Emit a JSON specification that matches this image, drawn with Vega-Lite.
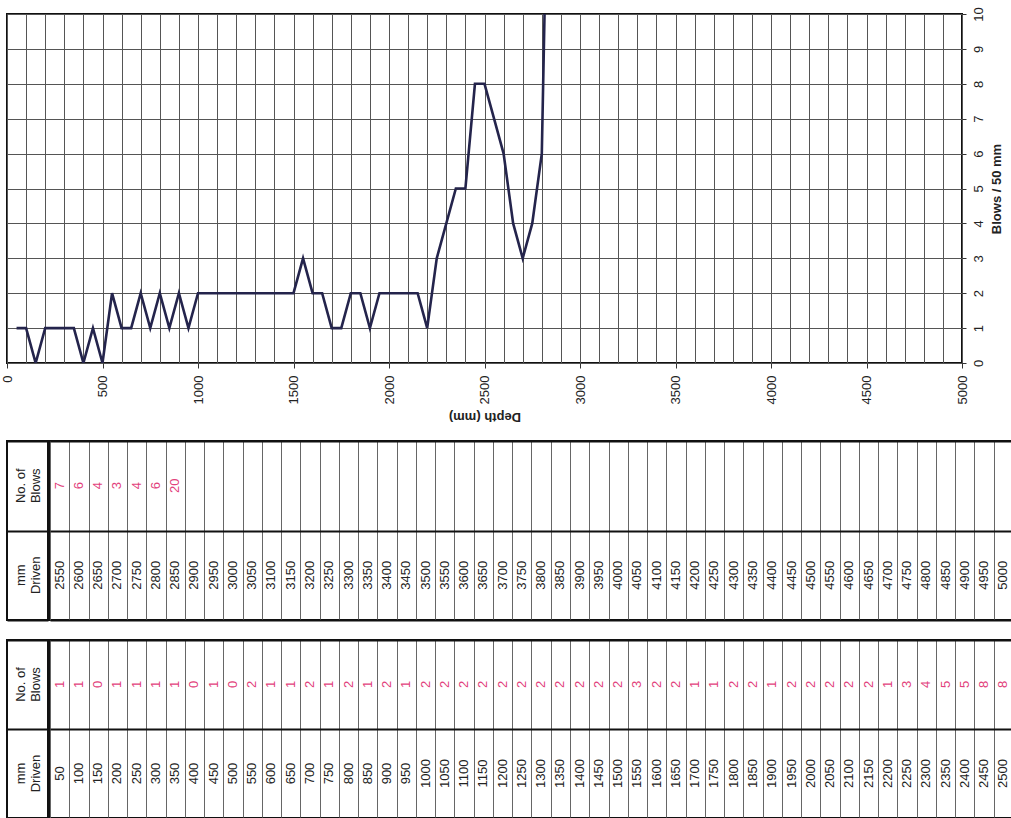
{
  "$schema": "https://vega.github.io/schema/vega-lite/v6.json",
  "padding": {"left": 0, "top": 5, "right": 0, "bottom": 0},
  "background": "white",
  "config": {
    "font": "Liberation Sans",
    "view": {"stroke": "#111111", "strokeWidth": 2},
    "axis": {"labelFont": "Liberation Sans", "titleFont": "Liberation Sans", "labelColor": "#222222", "titleColor": "#222222"}
  },
  "datasets": {
    "drive": [
      {"mm": 50, "blows": 1}, {"mm": 100, "blows": 1}, {"mm": 150, "blows": 0}, {"mm": 200, "blows": 1},
      {"mm": 250, "blows": 1}, {"mm": 300, "blows": 1}, {"mm": 350, "blows": 1}, {"mm": 400, "blows": 0},
      {"mm": 450, "blows": 1}, {"mm": 500, "blows": 0}, {"mm": 550, "blows": 2}, {"mm": 600, "blows": 1},
      {"mm": 650, "blows": 1}, {"mm": 700, "blows": 2}, {"mm": 750, "blows": 1}, {"mm": 800, "blows": 2},
      {"mm": 850, "blows": 1}, {"mm": 900, "blows": 2}, {"mm": 950, "blows": 1}, {"mm": 1000, "blows": 2},
      {"mm": 1050, "blows": 2}, {"mm": 1100, "blows": 2}, {"mm": 1150, "blows": 2}, {"mm": 1200, "blows": 2},
      {"mm": 1250, "blows": 2}, {"mm": 1300, "blows": 2}, {"mm": 1350, "blows": 2}, {"mm": 1400, "blows": 2},
      {"mm": 1450, "blows": 2}, {"mm": 1500, "blows": 2}, {"mm": 1550, "blows": 3}, {"mm": 1600, "blows": 2},
      {"mm": 1650, "blows": 2}, {"mm": 1700, "blows": 1}, {"mm": 1750, "blows": 1}, {"mm": 1800, "blows": 2},
      {"mm": 1850, "blows": 2}, {"mm": 1900, "blows": 1}, {"mm": 1950, "blows": 2}, {"mm": 2000, "blows": 2},
      {"mm": 2050, "blows": 2}, {"mm": 2100, "blows": 2}, {"mm": 2150, "blows": 2}, {"mm": 2200, "blows": 1},
      {"mm": 2250, "blows": 3}, {"mm": 2300, "blows": 4}, {"mm": 2350, "blows": 5}, {"mm": 2400, "blows": 5},
      {"mm": 2450, "blows": 8}, {"mm": 2500, "blows": 8}, {"mm": 2550, "blows": 7}, {"mm": 2600, "blows": 6},
      {"mm": 2650, "blows": 4}, {"mm": 2700, "blows": 3}, {"mm": 2750, "blows": 4}, {"mm": 2800, "blows": 6},
      {"mm": 2850, "blows": 20}, {"mm": 2900}, {"mm": 2950}, {"mm": 3000}, {"mm": 3050}, {"mm": 3100},
      {"mm": 3150}, {"mm": 3200}, {"mm": 3250}, {"mm": 3300}, {"mm": 3350}, {"mm": 3400}, {"mm": 3450},
      {"mm": 3500}, {"mm": 3550}, {"mm": 3600}, {"mm": 3650}, {"mm": 3700}, {"mm": 3750}, {"mm": 3800},
      {"mm": 3850}, {"mm": 3900}, {"mm": 3950}, {"mm": 4000}, {"mm": 4050}, {"mm": 4100}, {"mm": 4150},
      {"mm": 4200}, {"mm": 4250}, {"mm": 4300}, {"mm": 4350}, {"mm": 4400}, {"mm": 4450}, {"mm": 4500},
      {"mm": 4550}, {"mm": 4600}, {"mm": 4650}, {"mm": 4700}, {"mm": 4750}, {"mm": 4800}, {"mm": 4850},
      {"mm": 4900}, {"mm": 4950}, {"mm": 5000}
    ],
    "headers": [
      {"row": "No. of Blows", "label": "No. of\nBlows"},
      {"row": "mm Driven", "label": "mm\nDriven"}
    ]
  },
  "spacing": 15,
  "vconcat": [
    {
      "width": 955,
      "height": 349,
      "data": {"name": "drive"},
      "transform": [{"filter": "isValid(datum.blows)"}],
      "mark": {"type": "line", "clip": true, "color": "#24244c", "strokeWidth": 2.6, "strokeJoin": "miter"},
      "encoding": {
        "x": {
          "field": "mm", "type": "quantitative",
          "scale": {"domain": [0, 5000], "nice": false, "zero": false},
          "axis": {
            "tickCount": 50, "labelOverlap": false, "labelExpr": "datum.value % 500 === 0 ? datum.label : ''",
            "format": "d",
            "grid": true, "gridColor": "#555555", "gridWidth": 1,
            "domain": false, "tickColor": "#333333", "tickSize": 5,
            "tickOpacity": {"condition": {"test": "datum.value % 500 === 0", "value": 1}, "value": 0},
            "labelAngle": 270, "labelAlign": "right", "labelBaseline": "middle", "labelPadding": 7, "labelFontSize": 13,
            "title": "Depth (mm)", "titleAngle": 180, "titleBaseline": "bottom", "titleFontSize": 13, "titleFontWeight": "bold", "titlePadding": 6
          }
        },
        "y": {
          "field": "blows", "type": "quantitative",
          "scale": {"domain": [0, 10], "nice": false},
          "axis": {
            "orient": "right", "tickCount": 10, "grid": true, "gridColor": "#555555", "gridWidth": 1,
            "domain": false, "tickColor": "#333333", "tickSize": 4,
            "labelAngle": 270, "labelAlign": "center", "labelBaseline": "top", "labelPadding": 6, "labelFontSize": 13,
            "title": "Blows / 50 mm", "titleAngle": 270, "titleBaseline": "top", "titleFontSize": 13, "titleFontWeight": "bold", "titlePadding": 5
          }
        }
      }
    },
    {
      "spacing": 16,
      "vconcat": [
        {
          "spacing": 0,
          "hconcat": [
            {
              "width": 41, "height": 179,
              "data": {"name": "headers"},
              "mark": {"type": "text", "angle": 270, "fontSize": 13, "lineBreak": "\n", "lineHeight": 15, "dy": -7, "color": "#222222"},
              "encoding": {
                "y": {"field": "row", "type": "nominal", "sort": null,
                  "scale": {"domain": ["No. of Blows", "mm Driven"], "paddingInner": 0, "paddingOuter": 0},
                  "axis": {"grid": true, "tickBand": "extent", "gridColor": "#111111", "gridWidth": 2, "labels": false, "ticks": true, "tickSize": 4, "tickColor": "transparent", "domain": false, "title": null}},
                "text": {"field": "label"}
              }
            },
            {
              "width": 963, "height": 179,
              "data": {"name": "drive"},
              "transform": [{"filter": "datum.mm > 2500"}],
              "encoding": {
                "x": {"field": "mm", "type": "ordinal",
                  "scale": {"paddingInner": 0, "paddingOuter": 0},
                  "axis": {"orient": "top", "grid": true, "tickBand": "extent", "gridColor": "#666666", "gridWidth": 1, "labels": false, "ticks": false, "domain": false, "title": null}}
              },
              "layer": [
                {
                  "mark": {"type": "text", "angle": 270, "fontSize": 13, "color": "#222222"},
                  "encoding": {
                    "y": {"datum": "mm Driven", "type": "nominal",
                      "scale": {"domain": ["No. of Blows", "mm Driven"], "paddingInner": 0, "paddingOuter": 0},
                      "axis": {"grid": true, "tickBand": "extent", "gridColor": "#111111", "gridWidth": 2, "labels": false, "ticks": false, "domain": false, "title": null}},
                    "text": {"field": "mm", "type": "nominal"}
                  }
                },
                {
                  "transform": [{"filter": "isValid(datum.blows)"}],
                  "mark": {"type": "text", "angle": 270, "fontSize": 13, "color": "#e2417c"},
                  "encoding": {
                    "y": {"datum": "No. of Blows", "type": "nominal"},
                    "text": {"field": "blows", "type": "nominal"}
                  }
                }
              ]
            }
          ]
        },
        {
          "spacing": 0,
          "hconcat": [
            {
              "width": 41, "height": 178,
              "data": {"name": "headers"},
              "mark": {"type": "text", "angle": 270, "fontSize": 13, "lineBreak": "\n", "lineHeight": 15, "dy": -7, "color": "#222222"},
              "encoding": {
                "y": {"field": "row", "type": "nominal", "sort": null,
                  "scale": {"domain": ["No. of Blows", "mm Driven"], "paddingInner": 0, "paddingOuter": 0},
                  "axis": {"grid": true, "tickBand": "extent", "gridColor": "#111111", "gridWidth": 2, "labels": false, "ticks": true, "tickSize": 4, "tickColor": "transparent", "domain": false, "title": null}},
                "text": {"field": "label"}
              }
            },
            {
              "width": 963, "height": 178,
              "data": {"name": "drive"},
              "transform": [{"filter": "datum.mm <= 2500"}],
              "encoding": {
                "x": {"field": "mm", "type": "ordinal",
                  "scale": {"paddingInner": 0, "paddingOuter": 0},
                  "axis": {"orient": "top", "grid": true, "tickBand": "extent", "gridColor": "#666666", "gridWidth": 1, "labels": false, "ticks": false, "domain": false, "title": null}}
              },
              "layer": [
                {
                  "mark": {"type": "text", "angle": 270, "fontSize": 13, "color": "#222222"},
                  "encoding": {
                    "y": {"datum": "mm Driven", "type": "nominal",
                      "scale": {"domain": ["No. of Blows", "mm Driven"], "paddingInner": 0, "paddingOuter": 0},
                      "axis": {"grid": true, "tickBand": "extent", "gridColor": "#111111", "gridWidth": 2, "labels": false, "ticks": false, "domain": false, "title": null}},
                    "text": {"field": "mm", "type": "nominal"}
                  }
                },
                {
                  "transform": [{"filter": "isValid(datum.blows)"}],
                  "mark": {"type": "text", "angle": 270, "fontSize": 13, "color": "#e2417c"},
                  "encoding": {
                    "y": {"datum": "No. of Blows", "type": "nominal"},
                    "text": {"field": "blows", "type": "nominal"}
                  }
                }
              ]
            }
          ]
        }
      ]
    }
  ]
}
